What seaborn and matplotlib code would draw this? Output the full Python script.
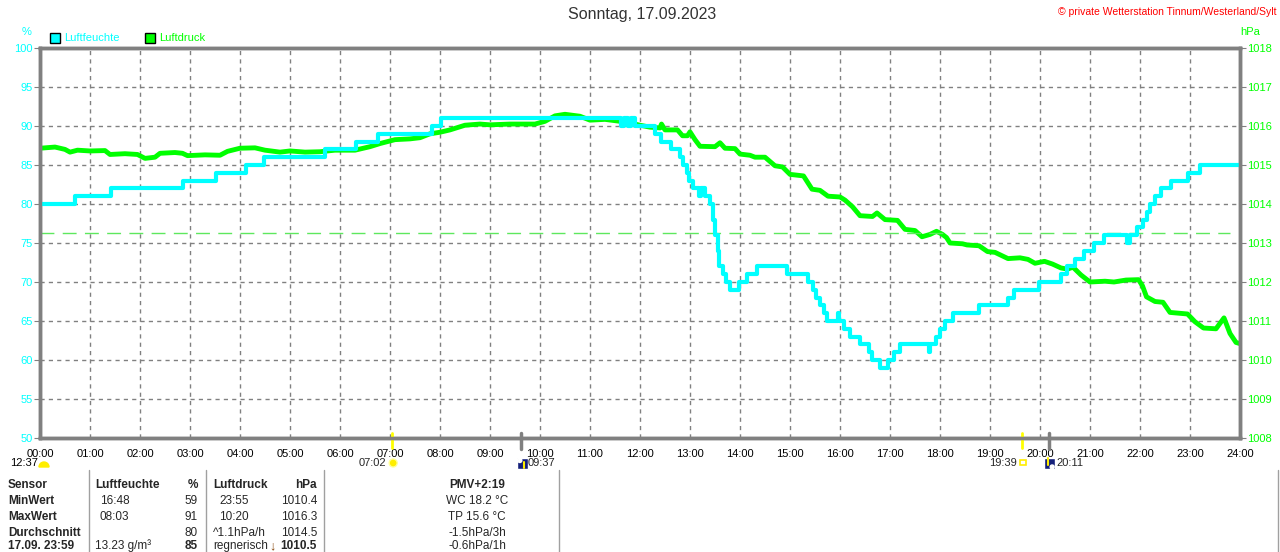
import numpy as np
import pandas as pd
import matplotlib
matplotlib.use("Agg")
import matplotlib.pyplot as plt
from matplotlib.patches import Rectangle, Circle, Wedge
import seaborn as sns

# Luftfeuchte in %, Stufenwerte (Stunde seit Mitternacht -> neuer Wert)
hum_hours = [0, 0.70, 1.42, 2.86, 3.52, 4.11, 4.48, 5.69, 6.32, 6.75, 7.84, 8.02,
             11.62, 11.68, 11.75, 11.82, 11.9, 12.3, 12.42, 12.62, 12.8, 12.85,
             12.93, 12.98, 13.05, 13.18, 13.22, 13.3, 13.4, 13.45, 13.5, 13.55,
             13.58, 13.65, 13.72, 13.79, 13.98, 14.13, 14.33, 14.93, 15.35, 15.45,
             15.52, 15.6, 15.67, 15.74, 15.95, 15.98, 16.08, 16.2, 16.4, 16.58,
             16.65, 16.8, 16.95, 17.08, 17.2, 17.78, 17.81, 17.92, 18.0, 18.09,
             18.25, 18.78, 19.36, 19.48, 19.97, 20.42, 20.54, 20.7, 20.87, 21.07,
             21.27, 21.74, 21.8, 21.93, 22.05, 22.13, 22.2, 22.3, 22.42, 22.62,
             22.95, 23.19, 24.0]
hum_vals = [80, 81, 82, 83, 84, 85, 86, 87, 88, 89, 90, 91,
            90, 91, 90, 91, 90, 89, 88, 87, 86, 85,
            84, 83, 82, 81, 82, 81, 80, 78, 76, 74,
            72, 71, 70, 69, 70, 71, 72, 71, 70, 69,
            68, 67, 66, 65, 66, 65, 64, 63, 62, 61,
            60, 59, 60, 61, 62, 61, 62, 63, 64, 65,
            66, 67, 68, 69, 70, 71, 72, 73, 74, 75,
            76, 75, 76, 77, 78, 79, 80, 81, 82, 83,
            84, 85, 85]

# Luftdruck in hPa
press_hours = [0, 0.3, 0.5, 0.6, 0.75, 1.0, 1.3, 1.4, 1.7, 1.95, 2.1, 2.3, 2.4,
               2.7, 2.85, 2.95, 3.3, 3.6, 3.75, 4.0, 4.3, 4.5, 4.8, 5.0, 5.3, 5.6,
               5.9, 6.3, 6.6, 6.8, 7.1, 7.4, 7.6, 7.8, 8.0, 8.2, 8.5, 8.8, 9.0,
               9.4, 9.9, 10.1, 10.3, 10.5, 10.8, 11.0, 11.3, 11.6, 11.8, 12.0,
               12.2, 12.4, 12.43, 12.5, 12.75, 12.85, 12.95, 13.0, 13.1, 13.2,
               13.5, 13.6, 13.7, 13.9, 14.0, 14.2, 14.3, 14.5, 14.7, 14.85, 15.0,
               15.27, 15.44, 15.6, 15.76, 16.0, 16.1, 16.25, 16.4, 16.65, 16.74,
               16.9, 17.15, 17.3, 17.5, 17.64, 17.8, 17.93, 18.05, 18.13, 18.2,
               18.45, 18.54, 18.78, 18.95, 19.1, 19.36, 19.6, 19.76, 19.9, 20.09,
               20.25, 20.42, 20.55, 20.66, 20.82, 21.0, 21.3, 21.48, 21.72, 21.97,
               22.05, 22.13, 22.3, 22.46, 22.6, 22.95, 23.1, 23.27, 23.52, 23.68,
               23.8, 23.92, 24.0]
press_vals = [1015.43, 1015.46, 1015.40, 1015.33, 1015.38, 1015.36, 1015.37, 1015.27,
              1015.29, 1015.27, 1015.17, 1015.20, 1015.30, 1015.32, 1015.30, 1015.24,
              1015.26, 1015.25, 1015.35, 1015.43, 1015.44, 1015.38, 1015.33, 1015.36,
              1015.33, 1015.34, 1015.38, 1015.38, 1015.47, 1015.55, 1015.65, 1015.67,
              1015.70, 1015.80, 1015.84, 1015.90, 1016.02, 1016.05, 1016.03, 1016.05,
              1016.05, 1016.12, 1016.26, 1016.30, 1016.25, 1016.15, 1016.17, 1016.12,
              1016.08, 1016.02, 1015.97, 1015.95, 1016.05, 1015.90, 1015.90, 1015.75,
              1015.75, 1015.85, 1015.65, 1015.48, 1015.47, 1015.57, 1015.43, 1015.42,
              1015.28, 1015.25, 1015.20, 1015.20, 1014.98, 1014.95, 1014.76, 1014.72,
              1014.38, 1014.35, 1014.20, 1014.18, 1014.10, 1013.93, 1013.70, 1013.68,
              1013.77, 1013.60, 1013.58, 1013.35, 1013.32, 1013.16, 1013.22, 1013.30,
              1013.22, 1013.14, 1013.00, 1012.98, 1012.95, 1012.93, 1012.78, 1012.76,
              1012.60, 1012.62, 1012.58, 1012.48, 1012.53, 1012.46, 1012.36, 1012.33,
              1012.38, 1012.18, 1012.00, 1012.02, 1012.00, 1012.05, 1012.06, 1011.90,
              1011.62, 1011.50, 1011.48, 1011.22, 1011.18, 1010.98, 1010.82, 1010.80,
              1011.08, 1010.68, 1010.45, 1010.42]

std_pressure = 1013.25
hour_labels = ["%02d:00" % h for h in range(25)]
pct_ticks = list(range(50, 101, 5))
hpa_ticks = list(range(1008, 1019))

# Sonne / Mond
sun_times = ["07:02", "19:39"]
sun_hours = [7 + 2 / 60, 19 + 39 / 60]
moon_times = ["09:37", "20:11"]
moon_hours = [9 + 37 / 60, 20 + 11 / 60]

# Tabelle unten
col_sensor = ["Sensor", "MinWert", "MaxWert", "Durchschnitt", "17.09. 23:59"]
col_hum_time = ["Luftfeuchte", "16:48", "08:03", "", "13.23 g/m³"]
col_hum_val = ["%", "59", "91", "80", "85"]
col_prs_time = ["Luftdruck", "23:55", "10:20", "^1.1hPa/h", "regnerisch"]
col_prs_val = ["hPa", "1010.4", "1016.3", "1014.5", "1010.5"]
col_extra = ["PMV+2:19", "WC 18.2 °C", "TP 15.6 °C", "-1.5hPa/3h", "-0.6hPa/1h"]

CYAN = "#00ffff"
LIME = "#00ff00"
GREY = "#808080"

sns.set_style("white")
plt.rcParams["font.family"] = ["Liberation Sans", "DejaVu Sans"]

hum_df = pd.DataFrame({"stunde": hum_hours, "feuchte": hum_vals})
prs_df = pd.DataFrame({"stunde": press_hours, "druck": press_vals})

fig = plt.figure(figsize=(12.8, 5.52), dpi=100)
ax = fig.add_axes([40 / 1280, 1 - 438 / 552, 1200 / 1280, 390 / 552])
ax2 = ax.twinx()

# Luftdruck (Basisachse, rechts beschriftet)
sns.lineplot(data=prs_df, x="stunde", y="druck", ax=ax, color=LIME, lw=3.5,
             estimator=None)
ax.axhline(std_pressure, xmax=0.992, color="#5ee85e", lw=1, dashes=(10, 6))
ax.set_ylim(1008, 1018)
ax.set_xlim(0, 24)
ax.set_xticks(range(25))
ax.set_xticklabels(hour_labels)
ax.set_yticks(hpa_ticks)
ax.set_xlabel("")
ax.set_ylabel("")
ax.grid(True, color=GREY, linestyle=(0, (3, 3)), linewidth=1)

# Luftfeuchte (Zwillingsachse, links beschriftet)
sns.lineplot(data=hum_df, x="stunde", y="feuchte", ax=ax2, color=CYAN, lw=3,
             drawstyle="steps-post", estimator=None)
ax2.set_ylim(50, 100)
ax2.set_yticks(pct_ticks)
ax2.set_ylabel("")

ax.yaxis.tick_right()
ax2.yaxis.tick_left()

ax.tick_params(axis="x", length=0, pad=8, labelsize=8, labelcolor="black")
ax.tick_params(axis="y", length=4, color=GREY, labelcolor=LIME, labelsize=8, pad=1)
ax2.tick_params(axis="y", length=4, color=GREY, labelcolor=CYAN, labelsize=8, pad=1)

for a in (ax, ax2):
    for s in a.spines.values():
        s.set_color(GREY)
        s.set_linewidth(2.5)

# Markierungen Sonnenauf-/untergang und Mond an der x-Achse
trans = ax.get_xaxis_transform()
for h in sun_hours:
    ax.plot([h, h], [0.012, -0.025], transform=trans, color="#ffff00", lw=2,
            clip_on=False, zorder=5)
for h in moon_hours:
    ax.plot([h, h], [0.012, -0.028], transform=trans, color=GREY, lw=2.5,
            clip_on=False, zorder=5)

# Overlay in Pixelkoordinaten fuer Texte
ov = fig.add_axes([0, 0, 1, 1], zorder=10)
ov.set_xlim(0, 1280)
ov.set_ylim(552, 0)
ov.axis("off")


def hx(h):
    return 40 + 50 * h


ov.text(642, 15, "Sonntag, 17.09.2023", ha="center", va="center", fontsize=11.5,
        color="#333333")
ov.text(1277, 12, "© private Wetterstation Tinnum/Westerland/Sylt", ha="right",
        va="center", fontsize=7.5, color="red")
ov.text(26.5, 32, "%", ha="center", va="center", fontsize=8, color=CYAN)
ov.text(1250, 32, "hPa", ha="center", va="center", fontsize=8, color=LIME)

ov.add_patch(Rectangle((50, 33), 10, 10, facecolor=CYAN, edgecolor="black", lw=1))
ov.text(64, 38, "Luftfeuchte", va="center", fontsize=8, color=CYAN)
ov.add_patch(Rectangle((145, 33), 10, 10, facecolor=LIME, edgecolor="black", lw=1))
ov.text(159, 38, "Luftdruck", va="center", fontsize=8, color=LIME)

# Ereignisse unter der Achse
ov.text(10.5, 463, "12:37", va="center", fontsize=8, color="black")
ov.add_patch(Wedge((44, 467), 5, 180, 360, color="#ffee00"))

ov.text(hx(sun_hours[0]) - 5, 463, sun_times[0], ha="right", va="center", fontsize=8)
ov.add_patch(Circle((hx(sun_hours[0]) + 1.5, 463), 4, facecolor="#ffee00",
                    edgecolor="#ffff99", lw=1))
ov.text(hx(sun_hours[1]) - 6, 463, sun_times[1], ha="right", va="center", fontsize=8)
ov.add_patch(Rectangle((hx(sun_hours[1]) - 2, 460), 5, 5, facecolor="white",
                       edgecolor="#ffee00", lw=1.2))

ov.add_patch(Rectangle((hx(moon_hours[0]) - 4, 458), 11, 11, facecolor="#14207a"))
ov.add_patch(Circle((hx(moon_hours[0]) - 1, 460.5), 2, color="white"))
ov.plot([hx(moon_hours[0]) + 3.5] * 2, [468, 462], color="#ffee00", lw=1.5)
ov.text(hx(moon_hours[0]) + 7, 463, moon_times[0], va="center", fontsize=8)
ov.add_patch(Rectangle((hx(moon_hours[1]) - 5, 458), 11, 11, facecolor="#14207a"))
ov.add_patch(Circle((hx(moon_hours[1]) + 3, 467), 2, color="white"))
ov.plot([hx(moon_hours[1]) - 1.5] * 2, [458, 465], color="#ffee00", lw=1.5)
ov.text(hx(moon_hours[1]) + 7, 463, moon_times[1], va="center", fontsize=8)

# Tabelle
row_y = [485, 501, 517, 533, 546]
for xs in (89, 206, 324, 559):
    ov.plot([xs, xs], [470, 552], color="#a0a0a0", lw=1)
ov.plot([1278, 1278], [470, 552], color="#a0a0a0", lw=1)

for i, y in enumerate(row_y):
    head = i == 0
    last = i == len(row_y) - 1
    ov.text(8, y, col_sensor[i], va="center", fontsize=8.5, fontweight="bold")
    ov.text(95 if (head or last) else 100, y, col_hum_time[i], va="center",
            fontsize=8.5, fontweight="bold" if head else "normal")
    ov.text(198, y, col_hum_val[i], ha="right", va="center", fontsize=8.5,
            fontweight="bold" if (head or last) else "normal")
    ov.text(213 if (head or i >= 3) else 219, y, col_prs_time[i], va="center",
            fontsize=8.5, fontweight="bold" if head else "normal")
    ov.text(317, y, col_prs_val[i], ha="right", va="center", fontsize=8.5,
            fontweight="bold" if (head or last) else "normal")
    ov.text(477, y, col_extra[i], ha="center", va="center", fontsize=8.5,
            fontweight="bold" if head else "normal")
ov.text(272, row_y[-1], "↓", ha="center", va="center", fontsize=9,
        color="#8a4a10", fontweight="bold")

fig.savefig("out.png", dpi=100)
